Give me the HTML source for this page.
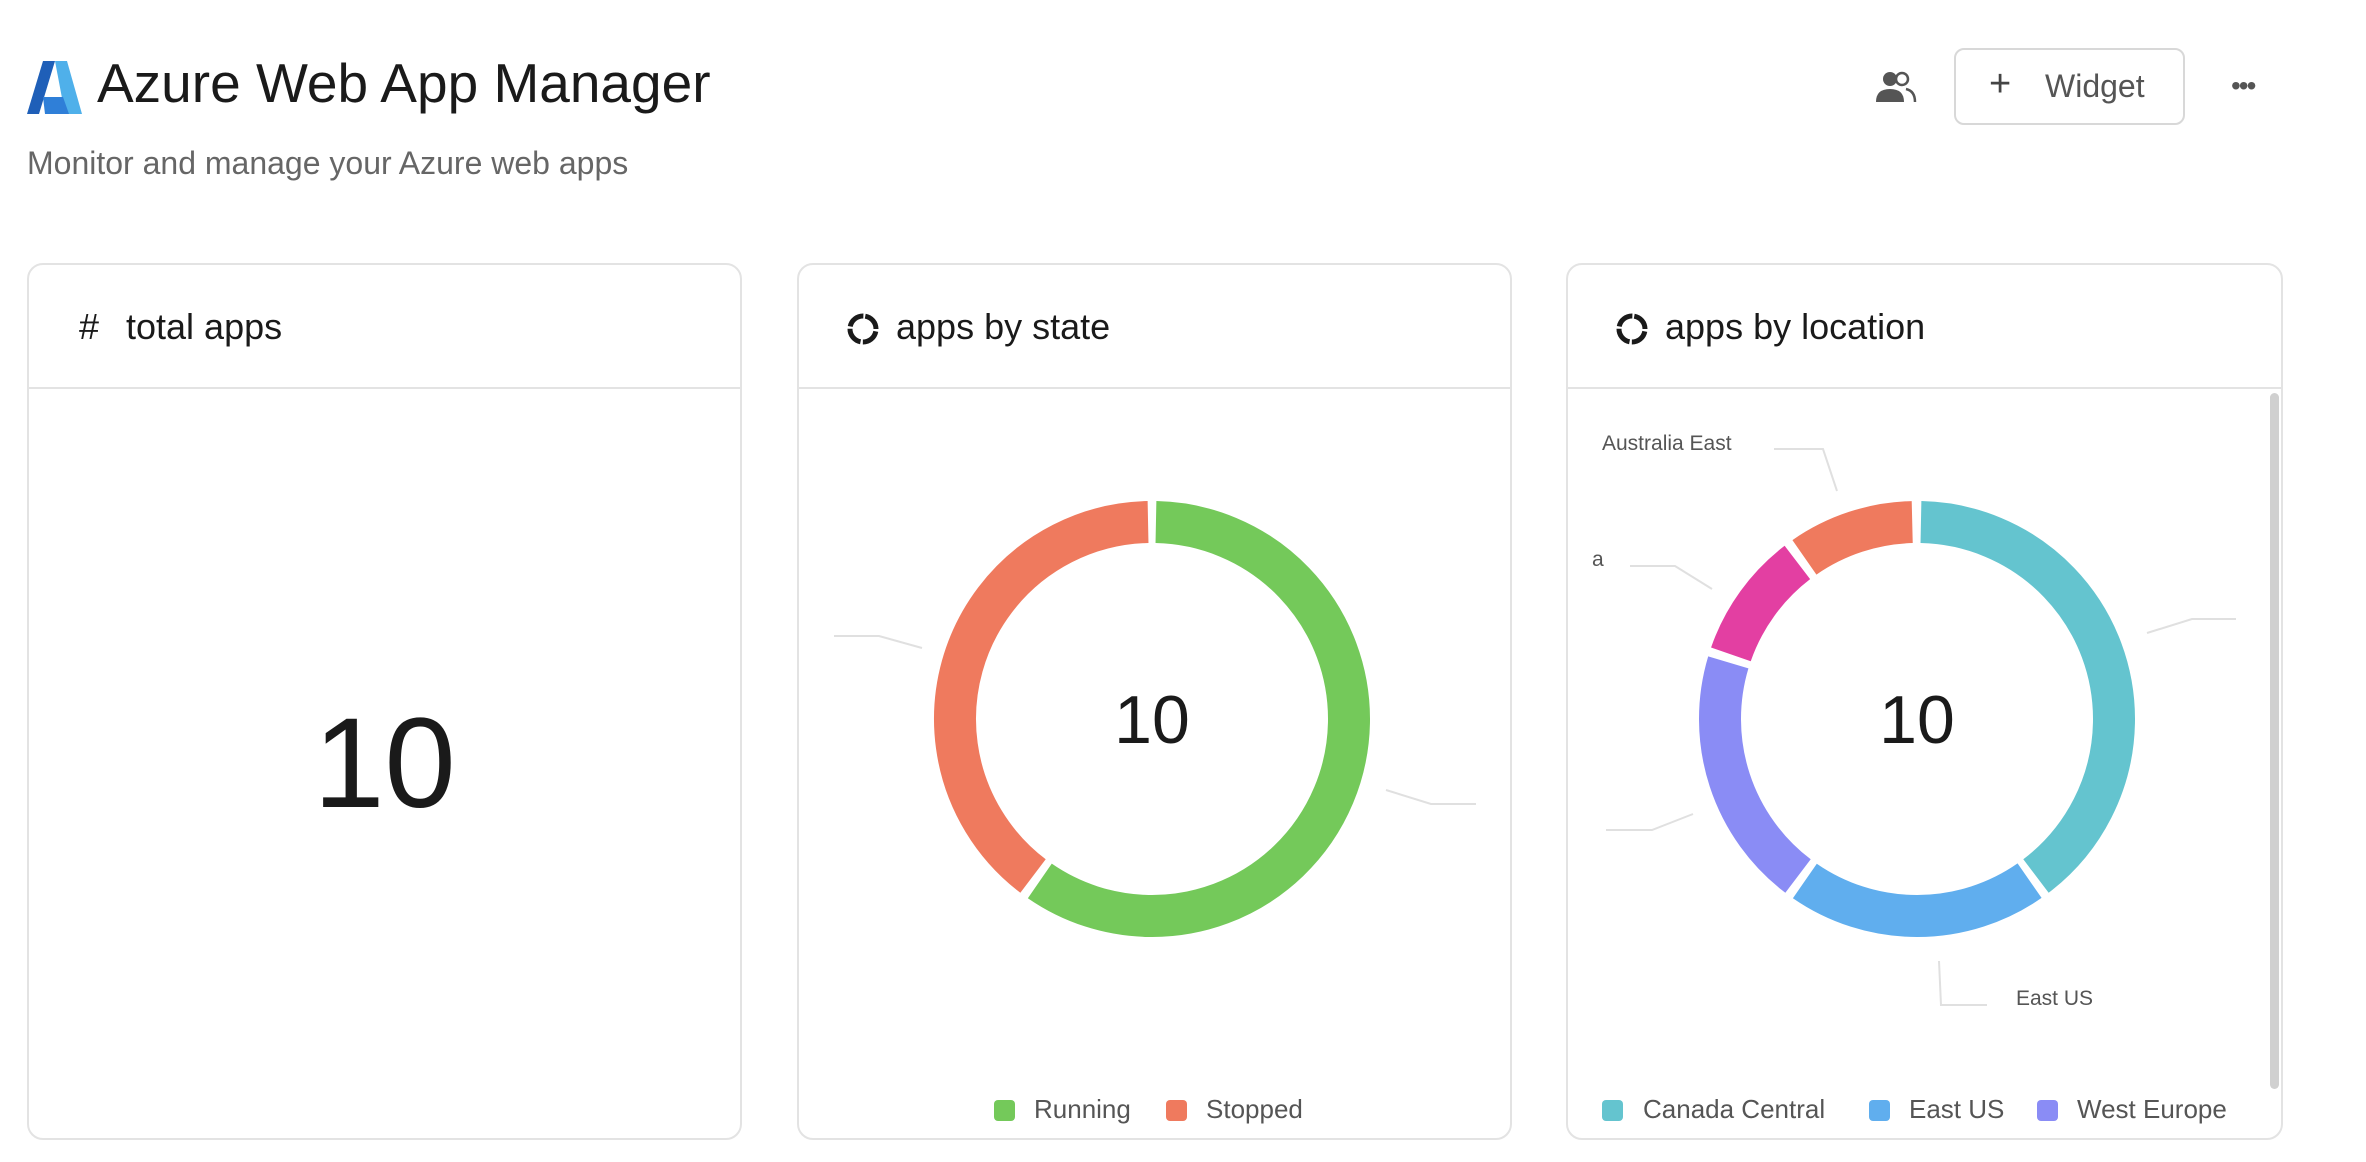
<!DOCTYPE html>
<html><head><meta charset="utf-8"><style>
*{margin:0;padding:0;box-sizing:border-box}
body{width:2366px;height:1162px;background:#fff;font-family:"Liberation Sans",sans-serif;position:relative;overflow:hidden;color:#1a1a1a}
.abs{position:absolute;white-space:nowrap}
.card{position:absolute;top:263px;height:877px;border:2px solid #e3e3e3;border-radius:16px;background:#fff}
.hdr{position:absolute;left:0;right:0;top:0;height:124px;border-bottom:2px solid #e3e3e3}
.ht{position:absolute;top:41px;font-size:36px;color:#1a1a1a}
.leg{position:absolute;top:1094px;font-size:26px;color:#555}
.sq{position:absolute;width:21px;height:21px;border-radius:4px;top:1100px}
</style></head><body>
<svg class="abs" style="left:27px;top:61px" width="56" height="54" viewBox="0 0 56 54">
<polygon points="16,0 28,0 12,53 0,53" fill="#1f5fb8"/>
<polygon points="28,0 40,0 55,53 38,53" fill="#4fb0ea"/>
<polygon points="16,36 36,36 42,53 18,53" fill="#2f7fd8"/>
</svg>
<div class="abs" style="left:97px;top:51px;font-size:55px;color:#1a1a1a">Azure Web App Manager</div>
<div class="abs" style="left:27px;top:145px;font-size:32px;color:#666">Monitor and manage your Azure web apps</div>
<svg class="abs" style="left:1875px;top:70px" width="42" height="36" viewBox="0 0 42 36">
<circle cx="15" cy="9" r="7" fill="#555"/><path d="M1 32 Q1 19 15 19 Q29 19 29 32 Z" fill="#555"/>
<circle cx="27" cy="9" r="6" fill="none" stroke="#555" stroke-width="2.5"/><path d="M31 19 Q40 21 40 32" fill="none" stroke="#555" stroke-width="2.5"/>
</svg>
<div class="abs" style="left:1954px;top:48px;width:231px;height:77px;border:2px solid #d8d8d8;border-radius:10px"></div>
<div class="abs" style="left:1989px;top:63px;font-size:38px;color:#444;font-weight:300">+</div>
<div class="abs" style="left:2045px;top:68px;font-size:32px;color:#555">Widget</div>
<div class="abs" style="left:2231px;top:70px;font-size:28px;color:#555;letter-spacing:-2px">•••</div>

<div class="card" style="left:27px;width:715px"><div class="hdr"></div>
<div class="ht" style="left:50px">#</div><div class="ht" style="left:97px">total apps</div>
<div class="abs" style="left:0;width:711px;text-align:center;top:435px;font-size:128px;line-height:1;color:#1a1a1a">10</div>
</div>
<div class="card" style="left:797px;width:715px"><div class="hdr"></div>
<svg class="abs" style="left:47px;top:47px" width="34" height="34" viewBox="0 0 34 34"><circle cx="17" cy="17" r="13" fill="none" stroke="#1a1a1a" stroke-width="5" stroke-dasharray="18 2.4" transform="rotate(-80 17 17)"/></svg>
<div class="ht" style="left:97px">apps by state</div>
</div>
<div class="card" style="left:1566px;width:717px"><div class="hdr"></div>
<svg class="abs" style="left:47px;top:47px" width="34" height="34" viewBox="0 0 34 34"><circle cx="17" cy="17" r="13" fill="none" stroke="#1a1a1a" stroke-width="5" stroke-dasharray="18 2.4" transform="rotate(-80 17 17)"/></svg>
<div class="ht" style="left:97px">apps by location</div>
<div class="abs" style="left:702px;top:128px;width:9px;height:696px;background:#d0d0d0;border-radius:5px"></div>
</div>

<svg class="abs" style="left:0;top:0" width="2366" height="1162">
<g fill="none" stroke-width="42">
<circle cx="1152" cy="719" r="197" stroke="#74c95a" stroke-dasharray="734 2000" transform="rotate(-88.85 1152 719)"/>
<circle cx="1152" cy="719" r="197" stroke="#ef7a5e" stroke-dasharray="487 2000" transform="rotate(127.15 1152 719)"/>
<circle cx="1917" cy="719" r="197" stroke="#64c4cf" stroke-dasharray="487 2000" transform="rotate(-88.85 1917 719)"/>
<circle cx="1917" cy="719" r="197" stroke="#60aeee" stroke-dasharray="239 2000" transform="rotate(55.15 1917 719)"/>
<circle cx="1917" cy="719" r="197" stroke="#8a8cf5" stroke-dasharray="239 2000" transform="rotate(127.15 1917 719)"/>
<circle cx="1917" cy="719" r="197" stroke="#e33fa2" stroke-dasharray="115 2000" transform="rotate(199.15 1917 719)"/>
<circle cx="1917" cy="719" r="197" stroke="#ef7a5e" stroke-dasharray="115 2000" transform="rotate(235.15 1917 719)"/>
</g>
<g fill="none" stroke="#e0e0e0" stroke-width="2">
<polyline points="834,636 879,636 922,648"/>
<polyline points="1386,790 1431,804 1476,804"/>
<polyline points="1774,449 1823,449 1837,491"/>
<polyline points="1630,566 1675,566 1712,589"/>
<polyline points="2147,633 2192,619 2236,619"/>
<polyline points="1606,830 1652,830 1693,814"/>
<polyline points="1939,961 1941,1005 1987,1005"/>
</g>
<text x="1152" y="743" text-anchor="middle" font-family="Liberation Sans, sans-serif" font-size="68" fill="#1a1a1a">10</text>
<text x="1917" y="743" text-anchor="middle" font-family="Liberation Sans, sans-serif" font-size="68" fill="#1a1a1a">10</text>
<text x="1602" y="450" font-family="Liberation Sans, sans-serif" font-size="21" fill="#555">Australia East</text>
<text x="1592" y="566" font-family="Liberation Sans, sans-serif" font-size="21" fill="#555">a</text>
<text x="2016" y="1005" font-family="Liberation Sans, sans-serif" font-size="21" fill="#555">East US</text>
</svg>

<div class="sq" style="left:994px;background:#74c95a"></div><div class="leg" style="left:1034px">Running</div>
<div class="sq" style="left:1166px;background:#ef7a5e"></div><div class="leg" style="left:1206px">Stopped</div>
<div class="sq" style="left:1602px;background:#64c4cf"></div><div class="leg" style="left:1643px">Canada Central</div>
<div class="sq" style="left:1869px;background:#60aeee"></div><div class="leg" style="left:1909px">East US</div>
<div class="sq" style="left:2037px;background:#8a8cf5"></div><div class="leg" style="left:2077px">West Europe</div>
</body></html>
